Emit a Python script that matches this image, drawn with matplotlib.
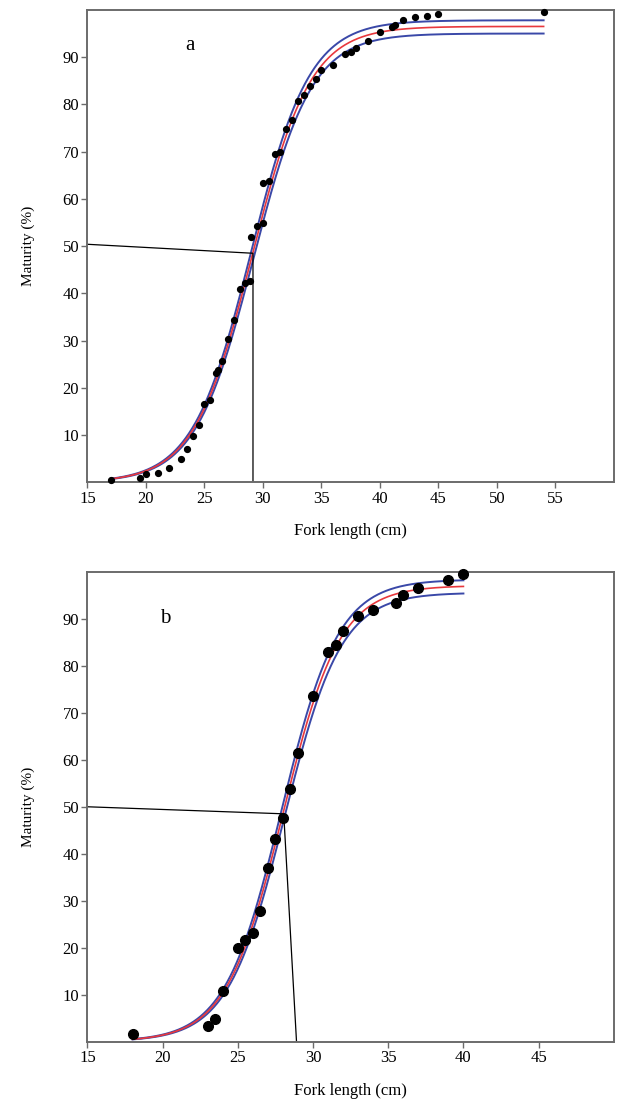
import numpy as np
import matplotlib
matplotlib.use("Agg")
import matplotlib.pyplot as plt

plt.rcParams['font.family'] = ['Liberation Serif', 'DejaVu Serif']

# panel a: observed maturity (%) by fork length (cm)
a_length = [17.0, 19.5, 20.0, 21.0, 22.0, 23.0, 23.5, 24.0, 24.5, 25.0, 25.5,
            26.0, 26.2, 26.5, 27.0, 27.5, 28.0, 28.5, 28.9, 29.0, 29.5, 30.0,
            30.0, 30.5, 31.0, 31.5, 32.0, 32.5, 33.0, 33.5, 34.0, 34.5, 35.0,
            36.0, 37.0, 37.5, 38.0, 39.0, 40.0, 41.0, 41.3, 42.0, 43.0, 44.0,
            45.0, 54.0]
a_maturity = [0.6, 0.9, 1.7, 2.1, 3.0, 5.0, 7.0, 9.8, 12.2, 16.5, 17.4,
              23.2, 23.7, 25.6, 30.4, 34.3, 40.9, 42.3, 42.7, 52.0, 54.2, 54.8,
              63.4, 63.8, 69.6, 70.0, 74.8, 76.7, 80.7, 82.0, 83.9, 85.3, 87.3,
              88.3, 90.6, 91.1, 92.0, 93.5, 95.4, 96.3, 96.7, 97.9, 98.4, 98.8,
              99.2, 99.6]

# panel b
b_length = [18.0, 23.0, 23.5, 24.0, 25.0, 25.5, 26.0, 26.5, 27.0, 27.5, 28.0,
            28.5, 29.0, 30.0, 31.0, 31.5, 32.0, 33.0, 34.0, 35.5, 36.0, 37.0,
            39.0, 40.0]
b_maturity = [1.5, 3.2, 4.7, 10.8, 20.0, 21.6, 23.1, 27.7, 36.9, 43.1, 47.6,
              53.7, 61.5, 73.6, 82.9, 84.4, 87.5, 90.6, 92.0, 93.5, 95.1, 96.7,
              98.2, 99.6]

# fitted logistic curves: asymptote, L50 (fit, upper, lower) and slope
a_asym = [96.5, 97.8, 95.0]
a_l50 = [29.1, 29.0, 29.2]
a_slope = 0.40
a_range = [17, 54]
b_asym = [97.1, 98.4, 95.6]
b_l50 = [28.0, 27.9, 28.1]
b_slope = 0.53
b_range = [18, 40]

# L50 guide lines
a_guide_x = [15, 29.15, 29.15]
a_guide_y = [50.4, 48.5, 0]
b_guide_x = [15, 28.05, 28.9]
b_guide_y = [50.0, 48.5, 0]

blue = '#3a48a8'
red = '#e8383d'
spine = '#6b6b6b'


def logistic(x, asym, l50, r):
    return asym / (1 + np.exp(-r * (x - l50)))


def panel(ax, lx, my, asym, l50, r, xr, gx, gy, xmax, xticks, letter, lpos, ms):
    x = np.linspace(xr[0], xr[1], 400)
    ax.plot(x, logistic(x, asym[1], l50[1], r), color=blue, lw=1.4)
    ax.plot(x, logistic(x, asym[2], l50[2], r), color=blue, lw=1.4)
    ax.plot(x, logistic(x, asym[0], l50[0], r), color=red, lw=1.2)
    ax.plot(gx, gy, color='black', lw=0.9)
    ax.plot(lx, my, 'o', color='black', ms=ms, clip_on=False, zorder=5)
    ax.set_xlim(15, xmax)
    ax.set_ylim(0, 100)
    ax.set_xticks(xticks)
    ax.set_yticks(range(10, 100, 10))
    ax.tick_params(direction='out', length=4, width=1, color=spine,
                   labelsize=12, pad=2)
    for s in ax.spines.values():
        s.set_color(spine)
        s.set_linewidth(1.4)
    ax.set_xlabel('Fork length (cm)', fontsize=12, labelpad=12)
    ax.set_ylabel('Maturity (%)', fontsize=11, labelpad=20)
    ax.text(lpos[0], lpos[1], letter, fontsize=15, ha='center', va='center')


fig = plt.figure(figsize=(6.17, 10.99), dpi=100)
ax1 = fig.add_axes([0.1418, 0.561, 0.853, 0.430])
ax2 = fig.add_axes([0.1418, 0.0523, 0.853, 0.4272])

panel(ax1, a_length, a_maturity, a_asym, a_l50, a_slope, a_range,
      a_guide_x, a_guide_y, 60, range(15, 60, 5), 'a', (23.75, 92.5), 4.2)
panel(ax2, b_length, b_maturity, b_asym, b_l50, b_slope, b_range,
      b_guide_x, b_guide_y, 50, range(15, 50, 5), 'b', (20.15, 90.0), 7.0)

fig.savefig('out.png', dpi=100)
